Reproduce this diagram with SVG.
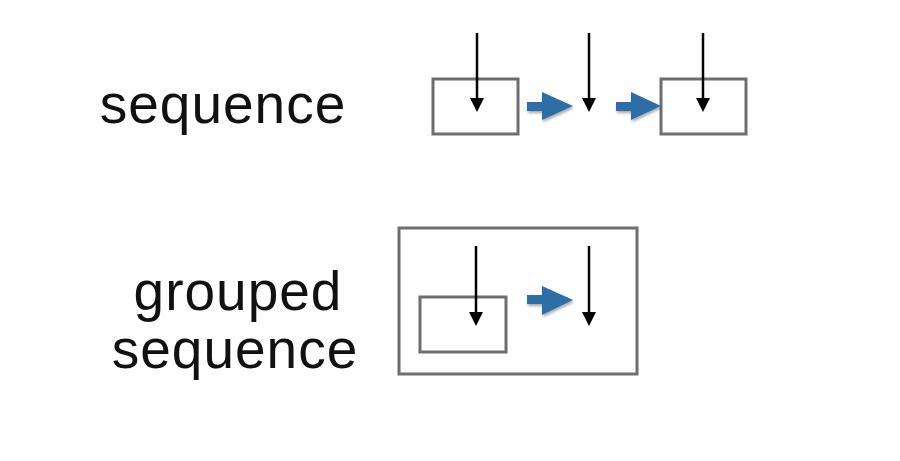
<svg xmlns="http://www.w3.org/2000/svg" width="900" height="461" viewBox="0 0 900 461">
<defs>
<style>
.lbl{font-family:"Liberation Sans",Arial,sans-serif;font-size:55px;letter-spacing:1px;fill:#111;text-anchor:middle}
.box{fill:none;stroke:#6e6e6e;stroke-width:3}
.down{stroke:#000;stroke-width:2.5;fill:none}
.head{fill:#000}
.blue{fill:#2f6ea6;filter:url(#sh)}
</style>
<filter id="sh" x="-20%" y="-20%" width="150%" height="160%">
<feDropShadow dx="1" dy="2" stdDeviation="1.5" flood-color="#000" flood-opacity="0.35"/>
</filter>
</defs>
<rect width="900" height="461" fill="#fff"/>
<g id="label-sequence"><text class="lbl" x="223" y="123">sequence</text></g>
<g id="label-grouped"><text class="lbl" x="238" y="310">grouped</text><text class="lbl" x="235" y="368">sequence</text></g>
<g id="box1"><rect class="box" x="433" y="79" width="85" height="55"/></g>
<g id="box3"><rect class="box" x="661" y="79" width="85" height="55"/></g>
<g id="outer"><rect class="box" x="399" y="228" width="238" height="146"/></g>
<g id="inner"><rect class="box" x="420" y="297" width="86" height="55"/></g>
<g id="connectors">
<line class="down" x1="477" y1="33" x2="477" y2="100"/><polygon class="head" points="470,98 484,98 477,112"/>
<line class="down" x1="589" y1="33" x2="589" y2="100"/><polygon class="head" points="582,98 596,98 589,112"/>
<line class="down" x1="703" y1="33" x2="703" y2="100"/><polygon class="head" points="696,98 710,98 703,112"/>
<line class="down" x1="476" y1="246" x2="476" y2="314"/><polygon class="head" points="469,312 483,312 476,326"/>
<line class="down" x1="589" y1="246" x2="589" y2="314"/><polygon class="head" points="582,312 596,312 589,326"/>
<polygon class="blue" points="527,102 542,102 542,92 573,106 542,120 542,111 527,111"/>
<polygon class="blue" points="616,102 631,102 631,92 661,106 631,120 631,111 616,111"/>
<polygon class="blue" points="527,295 542,295 542,286 573,300 542,315 542,304 527,304"/>
</g>
</svg>
